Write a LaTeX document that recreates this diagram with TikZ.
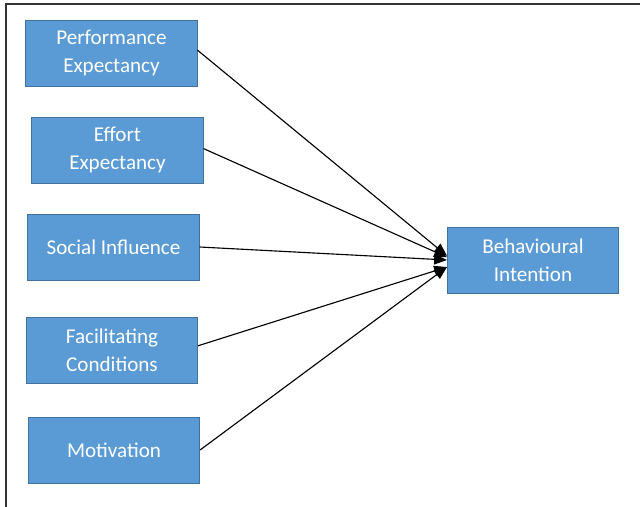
\documentclass[tikz,border=0pt]{standalone}
\usepackage{fontspec}
\setmainfont{Carlito}
\usetikzlibrary{arrows.meta,positioning}
\definecolor{boxfill}{RGB}{91,155,213}
\definecolor{boxedge}{RGB}{65,113,156}
\tikzset{
  factor/.style={draw=boxedge, fill=boxfill, line width=0.6pt, text=white,
    minimum width=4.28cm, minimum height=1.65cm, align=center,
    font=\fontsize{15}{20}\selectfont},
  pathln/.style={-{Triangle[length=3.2mm,width=2.6mm]}, line width=0.8pt, black},
  frameln/.style={line width=1.2pt, black!80},
}

\begin{document}
\begin{tikzpicture}[x=0.025cm, y=-0.025cm]
    \useasboundingbox (0,0) rectangle (640,507);
    % frame
    \draw[frameln] (6,507) -- (6,4) -- (641,4);
    % predictors
    \node[factor] (pe) at (111.5,53) {Performance\\Expectancy};
    \node[factor] (ee) at (117.5,150) {Effort\\Expectancy};
    \node[factor] (si) at (113.5,247) {Social Influence};
    \node[factor] (fc) at (112,350) {Facilitating\\Conditions};
    \node[factor] (mo) at (114,450) {Motivation};
    % outcome
    \node[factor] (bi) at (533,260) {Behavioural\\Intention};
    % paths
    \draw[pathln] ([yshift=2pt]pe.east) -- ([yshift=3pt]bi.west);
    \draw[pathln] ([yshift=1pt]ee.east) -- ([yshift=2pt]bi.west);
    \draw[pathln] (si.east) -- ([yshift=0pt]bi.west);
    \draw[pathln] ([yshift=3pt]fc.east) -- ([yshift=-5pt]bi.west);
    \draw[pathln] (mo.east) -- ([yshift=-5pt]bi.west);
\end{tikzpicture}
\end{document}
